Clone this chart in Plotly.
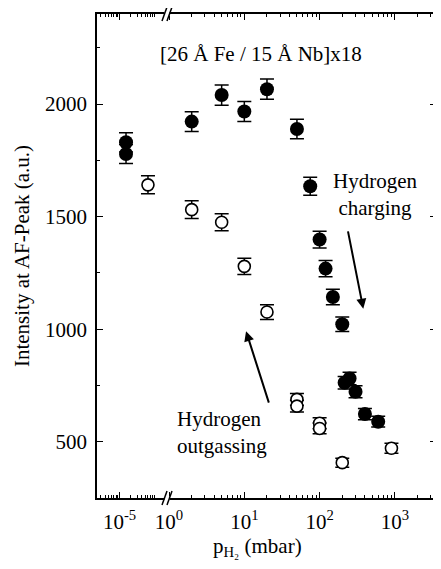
import plotly.graph_objects as go

# ---------------- data ----------------
charging_x = [1.5e-5, 1.5e-5, 2, 5, 10, 20, 50, 75, 100, 120, 150, 200, 215, 250, 300, 400, 600]
charging_y = [1830, 1778, 1922, 2040, 1967, 2066, 1889, 1635, 1398, 1269, 1143, 1022, 762, 781, 722, 623, 589]
charging_err = [43, 42, 44, 45, 44, 45, 43, 40, 37, 36, 34, 32, 28, 28, 27, 25, 24]

outgassing_x = [6e-5, 2, 5, 10, 20, 50, 50, 100, 100, 200, 900]
outgassing_y = [1641, 1531, 1475, 1279, 1076, 688, 658, 582, 559, 407, 471]
outgassing_err = [40, 39, 38, 36, 33, 26, 26, 24, 24, 20, 22]

y_ticks = [500, 1000, 1500, 2000]
y_minor = [250, 750, 1250, 1750, 2250]
x_ticks_low = [1e-5]
x_ticks_high = [1, 10, 100, 1000]
x_labels_low = ["10<sup>-5</sup>"]
x_labels_high = ["10<sup>0</sup>", "10<sup>1</sup>", "10<sup>2</sup>", "10<sup>3</sup>"]

title_text = "[26 Å Fe / 15 Å Nb]x18"
x_title = "p<sub>H₂</sub> (mbar)"
y_title = "Intensity at AF-Peak (a.u.)"

FONT = "Liberation Serif, Times New Roman, serif"
BREAK_X = 0.5  # values below go to the left (compressed) axis segment

# ---------------- layout geometry (page body has an 8px margin) ----------------
OFF = 8
W, H = 441 - OFF, 569 - OFF
PL, PR, PT, PB = 97, 436, 14, 498          # plot box in page pixels
ML, MR, MT, MB = PL - OFF, (441 - PR), PT - OFF, (569 - PB)
PW = PR - PL
PH = PB - PT
px2paper = lambda p: (p - PL) / PW
py2paper = lambda p: (PB - p) / PH
SPLIT = px2paper(167)

def minor_vals(lo, hi):
    return [k * 10.0 ** n for n in range(lo, hi) for k in range(2, 10)]

def split(xs, ys, es, low):
    idx = [i for i, x in enumerate(xs) if (x < BREAK_X) == low]
    return [xs[i] for i in idx], [ys[i] for i in idx], [es[i] for i in idx]

fig = go.Figure()

for low, xa, ya in [(True, "x", "y"), (False, "x2", "y2")]:
    cx, cy, ce = split(charging_x, charging_y, charging_err, low)
    ox, oy, oe = split(outgassing_x, outgassing_y, outgassing_err, low)
    fig.add_trace(go.Scatter(
        x=ox, y=oy, mode="markers", xaxis=xa, yaxis=ya, showlegend=False,
        marker=dict(symbol="circle", size=12, color="white",
                    line=dict(color="black", width=1.6)),
        error_y=dict(type="data", array=oe, visible=True, color="black",
                     thickness=1.5, width=7)))
    fig.add_trace(go.Scatter(
        x=cx, y=cy, mode="markers", xaxis=xa, yaxis=ya, showlegend=False,
        marker=dict(symbol="circle", size=14, color="black",
                    line=dict(color="black", width=0)),
        error_y=dict(type="data", array=ce, visible=True, color="black",
                     thickness=1.5, width=7)))

axis_common = dict(type="log", showgrid=False, zeroline=False, showline=True,
                   linecolor="black", linewidth=1.5, ticks="inside", ticklen=6,
                   tickwidth=1.2, tickcolor="black", mirror="allticks",
                   ticklabelstandoff=4,
                   tickfont=dict(family=FONT, size=21, color="black"))

fig.update_layout(
    width=W, height=H,
    margin=dict(l=ML, r=MR, t=MT, b=MB, pad=0),
    paper_bgcolor="white", plot_bgcolor="white",
    font=dict(family=FONT, size=21, color="black"),
    xaxis=dict(**axis_common, domain=[0, SPLIT], anchor="y",
               range=[-5.62, -3.70], tickvals=x_ticks_low, ticktext=x_labels_low,
               minor=dict(ticks="inside", ticklen=3, tickwidth=1, tickcolor="black",
                          tickvals=minor_vals(-7, -2), showgrid=False)),
    xaxis2=dict(**axis_common, domain=[SPLIT, 1], anchor="y2",
                range=[-0.027, 3.546], tickvals=x_ticks_high, ticktext=x_labels_high,
                minor=dict(ticks="inside", ticklen=3, tickwidth=1, tickcolor="black",
                           tickvals=minor_vals(-1, 4), showgrid=False)),
    yaxis=dict(range=[250, 2400], anchor="x", showgrid=False, zeroline=False,
               showline=True, linecolor="black", linewidth=1.5, ticks="inside",
               ticklen=6, tickwidth=1.2, tickcolor="black", tickvals=y_ticks,
               tickfont=dict(family=FONT, size=21, color="black"),
               ticklabelstandoff=4,
               minor=dict(ticks="inside", ticklen=3, tickwidth=1, tickcolor="black",
                          tickvals=y_minor, showgrid=False),
               title=dict(text=y_title, font=dict(family=FONT, size=21), standoff=10)),
    yaxis2=dict(matches="y", range=[250, 2400], anchor="x2", side="right",
                showgrid=False, zeroline=False, showline=True, linecolor="black",
                linewidth=1.5, ticks="inside", ticklen=6, tickwidth=1.2,
                tickcolor="black", tickvals=y_ticks, showticklabels=False,
                minor=dict(ticks="inside", ticklen=3, tickwidth=1, tickcolor="black",
                           tickvals=y_minor, showgrid=False)),
)

# x-axis title centred under the whole (broken) axis
fig.add_annotation(text=x_title, xref="paper", yref="paper",
                   x=px2paper(257), y=py2paper(547), xanchor="center", yanchor="middle",
                   showarrow=False, font=dict(family=FONT, size=21, color="black"))

# label inside the plot
fig.add_annotation(text=title_text, xref="x2", yref="y2", x=1.222, y=2223,
                   showarrow=False, font=dict(family=FONT, size=21, color="black"))

# charging label + arrow
fig.add_annotation(text="Hydrogen<br>charging", xref="x2", yref="y2", x=2.736, y=1598,
                   showarrow=False, align="center",
                   font=dict(family=FONT, size=21, color="black"))
fig.add_annotation(text="", xref="x2", yref="y2", axref="x2", ayref="y2",
                   x=2.580, y=1091, ax=2.373, ay=1441, showarrow=True,
                   arrowhead=2, arrowsize=1, arrowwidth=2, arrowcolor="black")

# outgassing label + arrow
fig.add_annotation(text="Hydrogen<br>outgassing", xref="x2", yref="y2", x=0.704, y=543,
                   showarrow=False, align="left",
                   font=dict(family=FONT, size=21, color="black"))
fig.add_annotation(text="", xref="x2", yref="y2", axref="x2", ayref="y2",
                   x=1.023, y=991, ax=1.332, ay=667, showarrow=True,
                   arrowhead=2, arrowsize=1, arrowwidth=2, arrowcolor="black")

# axis-break marks (//) at bottom and top
for yb in (PB, PT):
    fig.add_shape(type="rect", xref="paper", yref="paper",
                  x0=px2paper(164.5), x1=px2paper(169.5),
                  y0=py2paper(yb + 2), y1=py2paper(yb - 2),
                  fillcolor="white", line=dict(width=0), layer="above")
    for xs in (162, 167):
        fig.add_shape(type="line", xref="paper", yref="paper",
                      x0=px2paper(xs), y0=py2paper(yb + 7),
                      x1=px2paper(xs + 5), y1=py2paper(yb - 7),
                      line=dict(color="black", width=1.5), layer="above")

fig.write_html("out.html")
